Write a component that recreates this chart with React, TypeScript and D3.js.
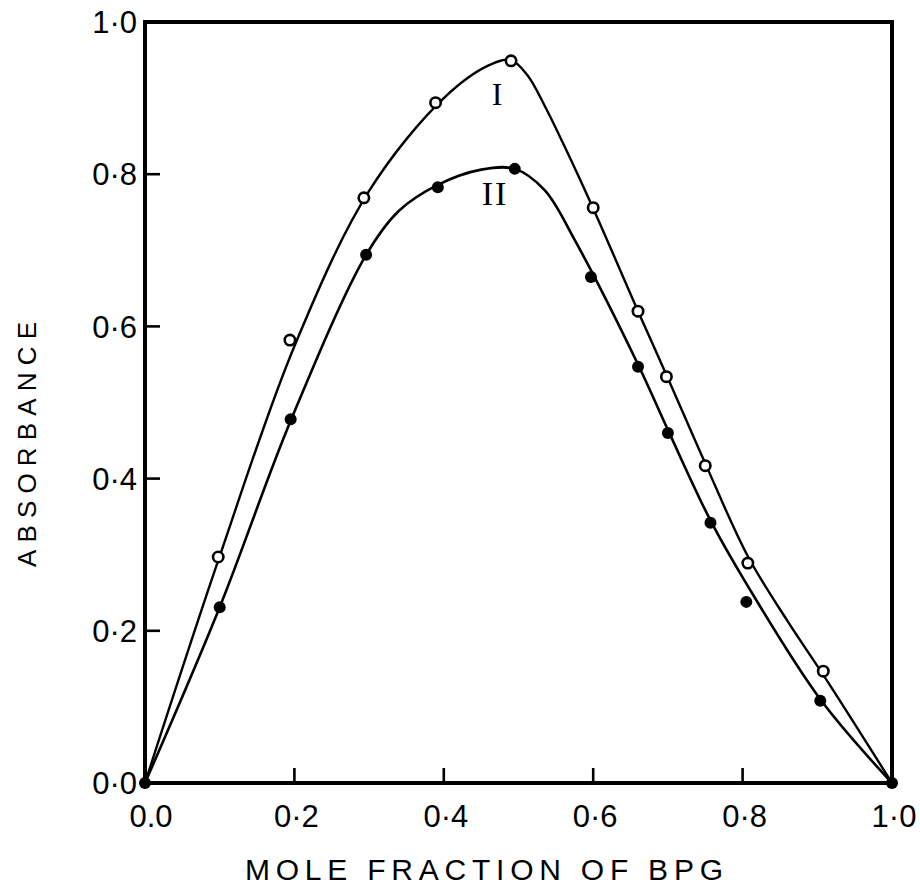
import React from 'react';
import * as d3 from 'd3';

// axis ticks
const xTickValues = [0, 0.2, 0.4, 0.6, 0.8, 1.0];
const xTickLabels = ['0.0', '0·2', '0·4', '0·6', '0·8', '1·0'];
const yTickValues = [0, 0.2, 0.4, 0.6, 0.8, 1.0];
const yTickLabels = ['0·0', '0·2', '0·4', '0·6', '0·8', '1·0'];

// Series I (open circles)
const seriesIx = [0.098, 0.194, 0.293, 0.389, 0.49, 0.6, 0.66, 0.698, 0.75, 0.807, 0.908];
const seriesIy = [0.297, 0.582, 0.769, 0.894, 0.949, 0.756, 0.62, 0.534, 0.417, 0.289, 0.147];

// Series II (filled circles)
const seriesIIx = [0, 0.1, 0.195, 0.296, 0.392, 0.495, 0.597, 0.66, 0.7, 0.757, 0.805, 0.904, 1.0];
const seriesIIy = [0, 0.231, 0.478, 0.694, 0.783, 0.807, 0.665, 0.547, 0.46, 0.342, 0.238, 0.108, 0];

// Fitted curve I
const fitIx = [0, 0.1, 0.2, 0.3, 0.4, 0.46, 0.49, 0.512, 0.535, 0.56, 0.6, 0.66, 0.7, 0.75, 0.807, 0.86, 0.908, 1.0];
const fitIy = [0, 0.298, 0.574, 0.778, 0.9, 0.943, 0.95, 0.93, 0.89, 0.84, 0.755, 0.62, 0.532, 0.42, 0.298, 0.213, 0.142, 0];

// Fitted curve II
const fitIIx = [0, 0.1, 0.195, 0.296, 0.34, 0.392, 0.45, 0.495, 0.535, 0.575, 0.66, 0.7, 0.757, 0.805, 0.904, 1.0];
const fitIIy = [0, 0.231, 0.476, 0.694, 0.752, 0.786, 0.806, 0.807, 0.779, 0.714, 0.55, 0.464, 0.345, 0.262, 0.11, 0];

const xTitle = 'MOLE FRACTION OF BPG';
const yTitle = 'ABSORBANCE';

const W = 920;
const H = 886;
const left = 145;
const right = 892;
const top = 22;
const bottom = 783;

export default function App() {
  const x = d3.scaleLinear().domain([0, 1]).range([left, right]);
  const y = d3.scaleLinear().domain([0, 1]).range([bottom, top]);

  const line = d3
    .line<[number, number]>()
    .x((d) => x(d[0]))
    .y((d) => y(d[1]))
    .curve(d3.curveCatmullRom.alpha(0.5));

  const fitI: [number, number][] = fitIx.map((v, i) => [v, fitIy[i]]);
  const fitII: [number, number][] = fitIIx.map((v, i) => [v, fitIIy[i]]);

  const sans = '"Liberation Sans", Arial, sans-serif';
  const serif = '"Liberation Serif", "Times New Roman", serif';

  return (
    <svg
      width={W}
      height={H}
      viewBox={`0 0 ${W} ${H}`}
      style={{ position: 'absolute', left: 0, top: 0, background: '#fff', display: 'block' }}
    >
      <rect x={0} y={0} width={W} height={H} fill="#fff" />

      {/* curves */}
      <path d={line(fitI) || ''} fill="none" stroke="#000" strokeWidth={2.4} />
      <path d={line(fitII) || ''} fill="none" stroke="#000" strokeWidth={2.6} />

      {/* points */}
      {seriesIx.map((v, i) => (
        <circle key={'o' + i} cx={x(v)} cy={y(seriesIy[i])} r={5.2} fill="#fff" stroke="#000" strokeWidth={2.6} />
      ))}
      {seriesIIx.map((v, i) => (
        <circle key={'f' + i} cx={x(v)} cy={y(seriesIIy[i])} r={6} fill="#000" />
      ))}

      {/* frame */}
      <rect x={left} y={top} width={right - left} height={bottom - top} fill="none" stroke="#000" strokeWidth={4} />

      {/* ticks */}
      {xTickValues.slice(1, -1).map((v) => (
        <line key={'xt' + v} x1={x(v)} x2={x(v)} y1={bottom} y2={bottom - 15} stroke="#000" strokeWidth={2.6} />
      ))}
      {yTickValues.slice(1, -1).map((v) => (
        <line key={'yt' + v} x1={left} x2={left + 15} y1={y(v)} y2={y(v)} stroke="#000" strokeWidth={2.6} />
      ))}

      {/* tick labels */}
      {xTickValues.map((v, i) => (
        <text
          key={'xl' + v}
          x={x(v) + (i === 0 ? 6 : 2)}
          y={827}
          textAnchor="middle"
          fontFamily={sans}
          fontSize={31}
          fill="#000"
        >
          {xTickLabels[i]}
        </text>
      ))}
      {yTickValues.map((v, i) => (
        <text
          key={'yl' + v}
          x={137}
          y={y(v)}
          dy="0.36em"
          textAnchor="end"
          fontFamily={sans}
          fontSize={31}
          fill="#000"
        >
          {yTickLabels[i]}
        </text>
      ))}

      {/* axis titles */}
      <text
        x={245}
        y={880}
        fontFamily={sans}
        fontSize={30}
        textLength={478}
        lengthAdjust="spacing"
        fill="#000"
      >
        {xTitle}
      </text>
      <text
        transform={`translate(36, 567) rotate(-90)`}
        x={0}
        y={0}
        fontFamily={sans}
        fontSize={26}
        textLength={245}
        lengthAdjust="spacing"
        fill="#000"
      >
        {yTitle}
      </text>

      {/* curve labels */}
      <text x={497} y={105} textAnchor="middle" fontFamily={serif} fontSize={32} fill="#000">
        I
      </text>
      <text x={495} y={205} textAnchor="middle" fontFamily={serif} fontSize={34} letterSpacing={2} fill="#000">
        II
      </text>
    </svg>
  );
}
